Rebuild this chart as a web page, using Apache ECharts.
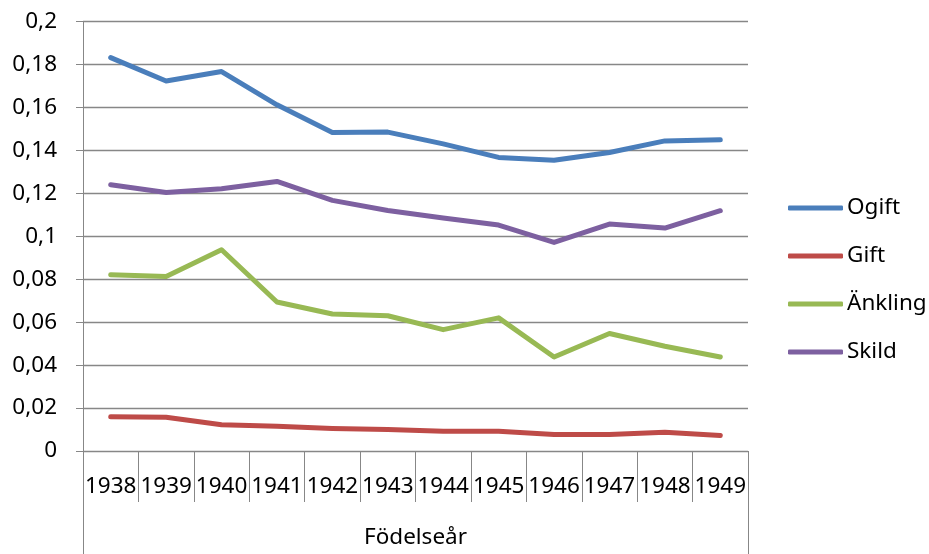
<!DOCTYPE html>
<html>
<head>
<meta charset="utf-8">
<script src="https://cdn.jsdelivr.net/npm/echarts@6/dist/echarts.min.js"></script>
<style>
  html, body { margin: 0; padding: 0; background: #fff; }
  #chart { width: 929px; height: 554px; }
</style>
</head>
<body>
<div id="chart"></div>
<script>
// Birth years on the category axis
const years = ['1938', '1939', '1940', '1941', '1942', '1943', '1944', '1945', '1946', '1947', '1948', '1949'];

// Shares per marital status
const ogift   = [0.1832, 0.1723, 0.1767, 0.1612, 0.1483, 0.1485, 0.1430, 0.1367, 0.1354, 0.1390, 0.1444, 0.1449];
const gift    = [0.0159, 0.0157, 0.0122, 0.0115, 0.0105, 0.0100, 0.0092, 0.0092, 0.0077, 0.0077, 0.0087, 0.0072];
const ankling = [0.0821, 0.0813, 0.0937, 0.0694, 0.0638, 0.0630, 0.0565, 0.0620, 0.0438, 0.0547, 0.0488, 0.0438];
const skild   = [0.1240, 0.1204, 0.1221, 0.1255, 0.1167, 0.1120, 0.1085, 0.1052, 0.0971, 0.1057, 0.1038, 0.1119];

const seriesNames = ['Ogift', 'Gift', 'Änkling', 'Skild'];
const seriesColors = ['#4a7ebb', '#be4b48', '#98b954', '#7d60a0'];

const FONT = 'Noto Sans';
const FS = 22.5;
const GRAY = '#878787';

const chart = echarts.init(document.getElementById('chart'), null, { renderer: 'canvas' });

function line(name, data, color) {
  return {
    name, type: 'line', data,
    symbol: 'none',
    lineStyle: { width: 5, color, cap: 'round', join: 'round' },
    itemStyle: { color },
    emphasis: { disabled: true },
    animation: false
  };
}

chart.setOption({
  animation: false,
  textStyle: { fontFamily: FONT },
  grid: { left: 83, right: 181, top: 21.5, bottom: 102.5 },
  legend: {
    orient: 'vertical',
    left: 788, top: 196, padding: 0,
    itemWidth: 55, itemHeight: 5, itemGap: 24,
    icon: 'roundRect',
    textStyle: { fontFamily: FONT, fontSize: FS, color: '#000', lineHeight: 24, padding: [0, 0, 0, -1] },
    data: seriesNames
  },
  xAxis: [
    {
      type: 'category',
      data: years,
      boundaryGap: true,
      name: 'Födelseår',
      nameLocation: 'middle',
      nameGap: 75,
      nameTextStyle: { fontFamily: FONT, fontSize: FS, color: '#000' },
      axisLine: { show: true, lineStyle: { color: GRAY, width: 1 } },
      axisTick: { show: true, interval: 0, length: 51, lineStyle: { color: GRAY, width: 1 } },
      axisLabel: { interval: 0, margin: 24, fontFamily: FONT, fontSize: FS, color: '#000' },
      splitLine: { show: false }
    },
    {
      // outer frame lines of the category area, running to the bottom edge
      type: 'value', min: 0, max: 1, interval: 1,
      position: 'bottom',
      axisLine: { show: false },
      axisTick: { show: true, length: 110, lineStyle: { color: GRAY, width: 1 } },
      axisLabel: { show: false },
      splitLine: { show: false }
    }
  ],
  yAxis: {
    type: 'value',
    min: 0, max: 0.2, interval: 0.02,
    axisLine: { show: true, lineStyle: { color: GRAY, width: 1 } },
    axisTick: { show: true, length: 7, lineStyle: { color: GRAY, width: 1 } },
    axisLabel: {
      margin: 26, fontFamily: FONT, fontSize: FS, color: '#000',
      formatter: v => String(Number(v.toFixed(2))).replace('.', ',')
    },
    splitLine: { show: true, lineStyle: { color: GRAY, width: 1.3 } }
  },
  series: [
    line(seriesNames[0], ogift, seriesColors[0]),
    line(seriesNames[1], gift, seriesColors[1]),
    line(seriesNames[2], ankling, seriesColors[2]),
    line(seriesNames[3], skild, seriesColors[3])
  ]
});
</script>
</body>
</html>
